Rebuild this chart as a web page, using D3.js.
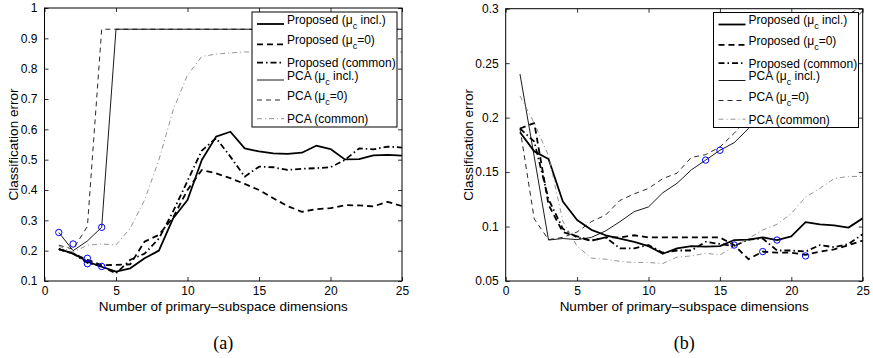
<!DOCTYPE html>
<html>
<head>
<meta charset="utf-8">
<script src="https://cdn.jsdelivr.net/npm/d3@7"></script>
<style>
body { margin: 0; background: #fff; }
svg { font-family: "Liberation Sans", Arial, Helvetica, sans-serif; }
.axis text { font-size: 12px; fill: #000; }
.axis line { stroke: #000; stroke-width: 0.8; }
.axis .domain { display: none; }
.box { fill: none; stroke: #000; stroke-width: 1; }
.lbl { font-size: 13.5px; fill: #000; }
.caption { font-family: "Liberation Serif", "DejaVu Serif", serif; font-size: 18px; }
.legend text { font-size: 12px; }
</style>
</head>
<body>
<div id="chart"></div>
<script>
// number of primary-subspace dimensions
var dims = [1,2,3,4,5,6,7,8,9,10,11,12,13,14,15,16,17,18,19,20,21,22,23,24,25];
var xTicks = [0,5,10,15,20,25];

// panel (a)
var aPropIncl   = [0.205,0.191,0.164,0.147,0.131,0.142,0.175,0.200,0.307,0.367,0.499,0.576,0.592,0.537,0.527,0.521,0.519,0.523,0.546,0.535,0.501,0.502,0.514,0.516,0.513];
var aPropZero   = [0.205,0.190,0.170,0.152,0.153,0.155,0.230,0.252,0.310,0.400,0.466,0.455,0.439,0.420,0.400,0.373,0.347,0.328,0.337,0.340,0.350,0.349,0.346,0.361,0.347];
var aPropCommon = [0.205,0.190,0.160,0.148,0.125,0.170,0.190,0.240,0.330,0.430,0.530,0.571,0.510,0.444,0.477,0.475,0.466,0.470,0.472,0.475,0.499,0.537,0.534,0.543,0.540];
var aPcaIncl    = [0.260,0.200,0.232,0.277,0.930,0.930,0.930,0.930,0.930,0.930,0.930,0.930,0.930,0.930,0.930,0.930,0.930,0.930,0.930,0.930,0.930,0.930,0.930,0.930,0.930];
var aPcaZero    = [0.218,0.205,0.280,0.930,0.930,0.930,0.930,0.930,0.930,0.930,0.930,0.930,0.930,0.930,0.930,0.930,0.930,0.930,0.930,0.930,0.930,0.930,0.930,0.930,0.930];
var aPcaCommon  = [0.215,0.195,0.218,0.222,0.219,0.274,0.367,0.499,0.664,0.779,0.840,0.848,0.852,0.855,0.855,0.855,0.855,0.855,0.855,0.855,0.855,0.855,0.855,0.855,0.855];
var aMarkX = [1,2,3,3,4,4];
var aMarkY = [0.260,0.222,0.175,0.157,0.277,0.148];
var aYTicks = [0.1,0.2,0.3,0.4,0.5,0.6,0.7,0.8,0.9,1];
var aYLabels = ["0.1","0.2","0.3","0.4","0.5","0.6","0.7","0.8","0.9","1"];

// panel (b)
var bPropIncl   = [0.1865,0.169,0.162,0.123,0.106,0.097,0.092,0.089,0.086,0.082,0.075,0.080,0.082,0.0815,0.082,0.0876,0.088,0.090,0.0876,0.091,0.104,0.102,0.101,0.099,0.1075];
var bPropZero   = [0.190,0.195,0.120,0.095,0.091,0.087,0.090,0.090,0.092,0.090,0.090,0.090,0.090,0.090,0.090,0.083,0.070,0.077,0.076,0.076,0.074,0.077,0.079,0.083,0.087];
var bPropCommon = [0.190,0.178,0.125,0.098,0.090,0.087,0.090,0.080,0.080,0.083,0.076,0.078,0.078,0.086,0.084,0.082,0.088,0.089,0.078,0.078,0.077,0.083,0.081,0.084,0.093];
var bPcaIncl    = [0.240,0.164,0.0876,0.089,0.088,0.090,0.096,0.1045,0.1137,0.118,0.131,0.1397,0.152,0.161,0.170,0.177,0.190,0.205,0.220,0.235,0.250,0.262,0.275,0.285,0.298];
var bPcaZero    = [0.190,0.107,0.088,0.090,0.095,0.1045,0.1106,0.124,0.130,0.135,0.144,0.149,0.1635,0.166,0.173,0.1856,0.200,0.215,0.230,0.245,0.260,0.270,0.280,0.295,0.302];
var bPcaCommon  = [0.220,0.195,0.165,0.105,0.082,0.071,0.070,0.068,0.067,0.067,0.066,0.072,0.073,0.0755,0.074,0.0815,0.089,0.0968,0.102,0.112,0.127,0.135,0.144,0.146,0.146];
var bMarkX = [14,15,16,18,19,21];
var bMarkY = [0.161,0.170,0.083,0.077,0.0876,0.073];
var bYTicks = [0.05,0.1,0.15,0.2,0.25,0.3];
var bYLabels = ["0.05","0.1","0.15","0.2","0.25","0.3"];

// legend text, split round the subscript
var legendParts = [
    ["Proposed (\u03bc","c"," incl.)"],
    ["Proposed (\u03bc","c","=0)"],
    ["Proposed (common)"],
    ["PCA (\u03bc","c"," incl.)"],
    ["PCA (\u03bc","c","=0)"],
    ["PCA (common)"]
];

// line styles, same order as the legend
var styles = [
    {w: 1.8, dash: null, c: "#000"},
    {w: 1.8, dash: "6,4", c: "#000"},
    {w: 1.8, dash: "6,3,1.5,3", c: "#000"},
    {w: 0.9, dash: null, c: "#000"},
    {w: 0.9, dash: "5,4", c: "#111"},
    {w: 0.9, dash: "5,3,1,3", c: "#888"}
];
// text baseline / sample line offsets inside the legend box (subscripts push text up)
var legTextY = [11.5, 32.2, 55, 67.6, 88.3, 111];
var legLineY = [12, 32.3, 50.7, 68, 88, 106.7];

var W = 873, H = 358, bottom = 281;
var svg = d3.select("#chart").append("svg").attr("width", W).attr("height", H);

function drawPanel(cfg) {
    var g = svg.append("g");
    var x = d3.scaleLinear().domain([0, 25]).range([cfg.left, cfg.right]);
    var y = d3.scaleLinear().domain(cfg.yDomain).range([bottom, cfg.top]);

    g.append("clipPath").attr("id", cfg.id + "clip")
        .append("rect")
        .attr("x", cfg.left).attr("y", cfg.top)
        .attr("width", cfg.right - cfg.left).attr("height", bottom - cfg.top);

    // axes, ticks pointing inward on all four sides
    g.append("g").attr("class", "axis").attr("transform", "translate(0," + bottom + ")")
        .call(d3.axisBottom(x).tickValues(xTicks).tickSize(-4).tickPadding(5.5));
    g.append("g").attr("class", "axis").attr("transform", "translate(0," + cfg.top + ")")
        .call(d3.axisTop(x).tickValues(xTicks).tickSize(-4).tickFormat(""));
    g.append("g").attr("class", "axis").attr("transform", "translate(" + cfg.left + ",0)")
        .call(d3.axisLeft(y).tickValues(cfg.yTicks).tickSize(-4).tickPadding(7)
            .tickFormat(function(d, i) { return cfg.yLabels[i]; }));
    g.append("g").attr("class", "axis").attr("transform", "translate(" + cfg.right + ",0)")
        .call(d3.axisRight(y).tickValues(cfg.yTicks).tickSize(-4).tickFormat(""));

    var line = d3.line()
        .x(function(d, i) { return x(dims[i]); })
        .y(function(d) { return y(d); });

    g.append("g").attr("clip-path", "url(#" + cfg.id + "clip)")
        .selectAll("path")
        .data(cfg.series).enter().append("path")
        .attr("d", line)
        .attr("fill", "none")
        .attr("stroke", function(d, i) { return styles[i].c; })
        .attr("stroke-width", function(d, i) { return styles[i].w; })
        .attr("stroke-dasharray", function(d, i) { return styles[i].dash; })
        .attr("stroke-linejoin", "round");

    // minimum markers
    g.selectAll("circle.mark")
        .data(cfg.markY).enter().append("circle")
        .attr("class", "mark")
        .attr("cx", function(d, i) { return x(cfg.markX[i]); })
        .attr("cy", function(d) { return y(d); })
        .attr("r", 3.2)
        .attr("fill", "none")
        .attr("stroke", "#0000ff")
        .attr("stroke-width", 1);

    g.append("rect").attr("class", "box")
        .attr("x", cfg.left).attr("y", cfg.top)
        .attr("width", cfg.right - cfg.left).attr("height", bottom - cfg.top);

    // legend
    var leg = g.append("g").attr("class", "legend")
        .attr("transform", "translate(" + cfg.legX + "," + cfg.legY + ")");
    leg.append("rect").attr("width", 145).attr("height", 115)
        .attr("fill", "#fff").attr("stroke", "#000").attr("stroke-width", 1);
    legendParts.forEach(function(parts, i) {
        leg.append("line")
            .attr("x1", 5).attr("x2", 32)
            .attr("y1", legLineY[i]).attr("y2", legLineY[i])
            .attr("stroke", styles[i].c)
            .attr("stroke-width", styles[i].w)
            .attr("stroke-dasharray", styles[i].dash);
        var t = leg.append("text").attr("x", 35).attr("y", legTextY[i]);
        t.append("tspan").text(parts[0]);
        if (parts.length > 1) {
            t.append("tspan").attr("dy", 5).style("font-size", "9px").text(parts[1]);
            t.append("tspan").attr("dy", -5).text(parts[2]);
        }
    });

    // axis labels and caption
    var cx = (cfg.left + cfg.right) / 2;
    g.append("text").attr("class", "lbl").attr("x", cx).attr("y", 310.5)
        .attr("text-anchor", "middle").text("Number of primary\u2013subspace dimensions");
    g.append("text").attr("class", "lbl")
        .attr("transform", "translate(" + cfg.ylabX + "," + ((cfg.top + bottom) / 2) + ") rotate(-90)")
        .attr("text-anchor", "middle").text("Classification error");
    g.append("text").attr("class", "caption").attr("x", cx).attr("y", 349)
        .attr("text-anchor", "middle").text(cfg.caption);
}

drawPanel({
    id: "a", left: 44.5, right: 402, top: 8, yDomain: [0.1, 1],
    yTicks: aYTicks, yLabels: aYLabels,
    series: [aPropIncl, aPropZero, aPropCommon, aPcaIncl, aPcaZero, aPcaCommon],
    markX: aMarkX, markY: aMarkY,
    legX: 252, legY: 12, ylabX: 18, caption: "(a)"
});

drawPanel({
    id: "b", left: 505.7, right: 862.7, top: 8.7, yDomain: [0.05, 0.3],
    yTicks: bYTicks, yLabels: bYLabels,
    series: [bPropIncl, bPropZero, bPropCommon, bPcaIncl, bPcaZero, bPcaCommon],
    markX: bMarkX, markY: bMarkY,
    legX: 713.5, legY: 12.5, ylabX: 473, caption: "(b)"
});
</script>
</body>
</html>
